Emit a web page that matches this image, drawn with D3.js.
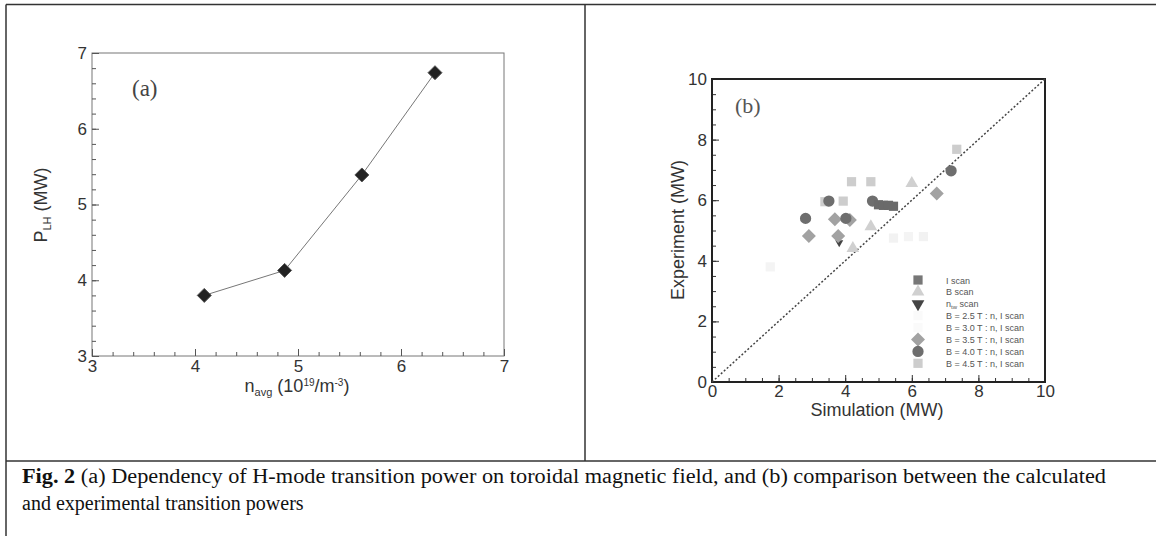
<!DOCTYPE html>
<html lang="en">
<head>
    <meta charset="UTF-8">
    <title>Fig. 2 transition power</title>
    <script src="https://d3js.org/d3.v7.min.js"></script>
    <style>
        body { margin: 0; background: #fff; }
        svg text { font-family: "Liberation Sans", Arial, sans-serif; }
        .serif { font-family: "Liberation Serif", "Times New Roman", serif !important; }
    </style>
</head>
<body>
    <svg id="fig" width="1156" height="536"></svg>
    <script>
        // Panel (a): transition power vs line-averaged density
        const densityA = [4.09, 4.87, 5.62, 6.33];
        const powerA = [3.8, 4.13, 5.39, 6.74];
        const ticksA = [3, 4, 5, 6, 7];

        // Panel (b): simulation vs experiment, one array per scan
        const ticksB = [0, 2, 4, 6, 8, 10];
        const iScan = [[5.0, 5.85], [5.15, 5.83], [5.3, 5.83], [5.45, 5.8]];
        const bScan = [[6.0, 6.56], [4.77, 5.13], [4.23, 4.41]];
        const nScan = [[3.82, 4.6]];
        const b25Scan = [[1.75, 3.8], [5.9, 4.8]];
        const b30Scan = [[6.35, 4.8], [5.45, 4.75]];
        const b35Scan = [[2.91, 4.82], [3.69, 5.37], [4.14, 5.35], [3.79, 4.82], [6.75, 6.22]];
        const b40Scan = [[2.81, 5.40], [3.51, 5.97], [4.02, 5.40], [4.82, 5.97], [7.18, 6.97]];
        const b45Scan = [[3.39, 5.95], [3.94, 5.97], [4.19, 6.61], [4.77, 6.61], [7.35, 7.68]];
        const legendLabels = ["I scan", "B scan", "n|tw| scan", "B = 2.5 T : n, I scan", "B = 3.0 T : n, I scan",
            "B = 3.5 T : n, I scan", "B = 4.0 T : n, I scan", "B = 4.5 T : n, I scan"];

        const svg = d3.select('#fig');

        // table borders around the figure
        const border = svg.append('g').attr('stroke', '#333').attr('stroke-width', 1.5);
        border.append('line').attr('x1', 6).attr('x2', 1156).attr('y1', 4.5).attr('y2', 4.5);
        border.append('line').attr('x1', 6).attr('x2', 6).attr('y1', 4.5).attr('y2', 536);
        border.append('line').attr('x1', 585).attr('x2', 585).attr('y1', 4.5).attr('y2', 461);
        border.append('line').attr('x1', 6).attr('x2', 1156).attr('y1', 461).attr('y2', 461);

        // ---------- panel (a) ----------
        const xA = d3.scaleLinear().domain([3, 7]).range([92, 504]);
        const yA = d3.scaleLinear().domain([3, 7]).range([356, 53]);
        const gA = svg.append('g');

        gA.append('rect').attr('x', 92).attr('y', 53).attr('width', 412).attr('height', 303)
            .attr('fill', 'none').attr('stroke', '#777').attr('stroke-width', 1);

        function styleAxis(g, color) {
            g.select('.domain').remove();
            g.selectAll('line').attr('stroke', color);
            g.selectAll('text').attr('fill', '#333').attr('font-size', 17);
        }

        gA.append('g').attr('transform', 'translate(0,356)')
            .call(d3.axisBottom(xA).tickValues(d3.range(3, 7.01, 0.2)).tickFormat('').tickSize(-4).tickSizeOuter(0))
            .call(g => styleAxis(g, '#555'));
        gA.append('g').attr('transform', 'translate(0,356)')
            .call(d3.axisBottom(xA).tickValues(ticksA).tickFormat(d3.format('d')).tickSize(-7).tickPadding(4).tickSizeOuter(0))
            .call(g => styleAxis(g, '#555'));
        gA.append('g').attr('transform', 'translate(92,0)')
            .call(d3.axisLeft(yA).tickValues(d3.range(3, 7.01, 0.2)).tickFormat('').tickSize(-4).tickSizeOuter(0))
            .call(g => styleAxis(g, '#555'));
        gA.append('g').attr('transform', 'translate(92,0)')
            .call(d3.axisLeft(yA).tickValues(ticksA).tickFormat(d3.format('d')).tickSize(-7).tickPadding(5).tickSizeOuter(0))
            .call(g => styleAxis(g, '#555'));

        const lineA = d3.line().x((d, i) => xA(d)).y((d, i) => yA(powerA[i]));
        gA.append('path').datum(densityA).attr('d', lineA)
            .attr('fill', 'none').attr('stroke', '#777').attr('stroke-width', 1);
        gA.selectAll('.dia').data(densityA).join('path')
            .attr('transform', (d, i) => `translate(${xA(d)},${yA(powerA[i])})`)
            .attr('d', 'M0,-7L7,0L0,7L-7,0Z')
            .attr('fill', '#222').attr('stroke', '#555');

        gA.append('text').attr('class', 'serif').attr('x', 132).attr('y', 96)
            .attr('font-size', 23).attr('fill', '#444').text('(a)');

        const yTitleA = gA.append('text').attr('transform', 'translate(47,205) rotate(-90)')
            .attr('text-anchor', 'middle').attr('font-size', 18).attr('fill', '#333');
        yTitleA.append('tspan').text('P');
        yTitleA.append('tspan').attr('font-size', 11).attr('dy', 4).text('LH');
        yTitleA.append('tspan').attr('dy', -4).text(' (MW)');

        const xTitleA = gA.append('text').attr('x', 297).attr('y', 392)
            .attr('text-anchor', 'middle').attr('font-size', 18).attr('fill', '#333');
        xTitleA.append('tspan').text('n');
        xTitleA.append('tspan').attr('font-size', 11).attr('dy', 4).text('avg');
        xTitleA.append('tspan').attr('dy', -4).text(' (10');
        xTitleA.append('tspan').attr('font-size', 10).attr('dy', -6).text('19');
        xTitleA.append('tspan').attr('dy', 6).text('/m');
        xTitleA.append('tspan').attr('font-size', 10).attr('dy', -6).text('-3');
        xTitleA.append('tspan').attr('dy', 6).text(')');

        // ---------- panel (b) ----------
        const xB = d3.scaleLinear().domain([0, 10]).range([712, 1045]);
        const yB = d3.scaleLinear().domain([0, 10]).range([382, 79]);
        const gB = svg.append('g');

        gB.append('g').attr('transform', 'translate(0,382)')
            .call(d3.axisBottom(xB).tickValues(d3.range(0, 10.01, 0.5)).tickFormat('').tickSize(-4).tickSizeOuter(0))
            .call(g => styleAxis(g, '#333'));
        gB.append('g').attr('transform', 'translate(0,382)')
            .call(d3.axisBottom(xB).tickValues(ticksB).tickSize(-7).tickPadding(3).tickSizeOuter(0))
            .call(g => styleAxis(g, '#333'));
        gB.append('g').attr('transform', 'translate(712,0)')
            .call(d3.axisLeft(yB).tickValues(d3.range(0, 10.01, 0.5)).tickFormat('').tickSize(-4).tickSizeOuter(0))
            .call(g => styleAxis(g, '#333'));
        gB.append('g').attr('transform', 'translate(712,0)')
            .call(d3.axisLeft(yB).tickValues(ticksB).tickSize(-7).tickPadding(5).tickSizeOuter(0))
            .call(g => styleAxis(g, '#333'));

        gB.append('rect').attr('x', 712).attr('y', 79).attr('width', 333).attr('height', 303)
            .attr('fill', 'none').attr('stroke', '#222').attr('stroke-width', 2);

        gB.append('line').attr('x1', xB(0)).attr('y1', yB(0)).attr('x2', xB(10)).attr('y2', yB(10))
            .attr('stroke', '#444').attr('stroke-width', 1.5).attr('stroke-dasharray', '2,2');

        const square = d3.symbol().type(d3.symbolSquare).size(85);
        const triangle = d3.symbol().type(d3.symbolTriangle).size(70);
        const smallTriangle = d3.symbol().type(d3.symbolTriangle).size(28);
        const diamond = 'M0,-7L7,0L0,7L-7,0Z';
        const circle = d3.symbol().type(d3.symbolCircle).size(100);

        const series = [
            { data: b25Scan, shape: square(), fill: '#f4f4f4' },
            { data: b30Scan, shape: square(), fill: '#f2f2f2' },
            { data: b45Scan, shape: square(), fill: '#cdcdcd' },
            { data: bScan, shape: triangle(), fill: '#d0d0d0' },
            { data: nScan, shape: smallTriangle(), fill: '#444', flip: true },
            { data: b35Scan, shape: diamond, fill: '#a2a2a2' },
            { data: b40Scan, shape: circle(), fill: '#6e6e6e' },
            { data: iScan, shape: square(), fill: '#6a6a6a' }
        ];
        series.forEach(s => {
            gB.append('g').selectAll('path').data(s.data).join('path')
                .attr('transform', d => `translate(${xB(d[0])},${yB(d[1])})` + (s.flip ? ' rotate(180)' : ''))
                .attr('d', s.shape).attr('fill', s.fill);
        });

        // legend
        const legendShapes = [
            { shape: square(), fill: '#777' },
            { shape: triangle(), fill: '#d0d0d0' },
            { shape: triangle(), fill: '#444', flip: true },
            { shape: square(), fill: '#fafafa' },
            { shape: square(), fill: '#fafafa' },
            { shape: diamond, fill: '#a2a2a2' },
            { shape: circle(), fill: '#6e6e6e' },
            { shape: square(), fill: '#cdcdcd' }
        ];
        const legend = gB.append('g');
        legendLabels.forEach((lab, i) => {
            const y = 280 + i * 11.9;
            const s = legendShapes[i];
            legend.append('path')
                .attr('transform', `translate(918,${y})` + (s.flip ? ' rotate(180)' : ''))
                .attr('d', s.shape).attr('fill', s.fill);
            const t = legend.append('text').attr('x', 946).attr('y', y + 3.5)
                .attr('font-size', 9).attr('fill', '#555');
            if (lab.includes('|')) {
                const parts = lab.split('|');
                t.append('tspan').text(parts[0]);
                t.append('tspan').attr('font-size', 6).attr('dy', 2).text(parts[1]);
                t.append('tspan').attr('dy', -2).text(parts[2]);
            } else {
                t.text(lab);
            }
        });

        gB.append('text').attr('class', 'serif').attr('x', 735).attr('y', 113)
            .attr('font-size', 22).attr('fill', '#555').text('(b)');
        gB.append('text').attr('transform', 'translate(684,230) rotate(-90)')
            .attr('text-anchor', 'middle').attr('font-size', 18).attr('fill', '#333').text('Experiment (MW)');
        gB.append('text').attr('x', 877).attr('y', 416)
            .attr('text-anchor', 'middle').attr('font-size', 18).attr('fill', '#333').text('Simulation (MW)');

        // ---------- caption ----------
        const cap = svg.append('g').attr('fill', '#111');
        const cap1 = cap.append('text').attr('class', 'serif').attr('x', 22).attr('y', 483)
            .attr('font-size', 20).attr('textLength', 1084).attr('lengthAdjust', 'spacingAndGlyphs');
        cap1.append('tspan').attr('font-weight', 'bold').text('Fig. 2');
        cap1.append('tspan').text(' (a) Dependency of H-mode transition power on toroidal magnetic field, and (b) comparison between the calculated');
        cap.append('text').attr('class', 'serif').attr('x', 22).attr('y', 510)
            .attr('font-size', 20).text('and experimental transition powers');
    </script>
</body>
</html>
